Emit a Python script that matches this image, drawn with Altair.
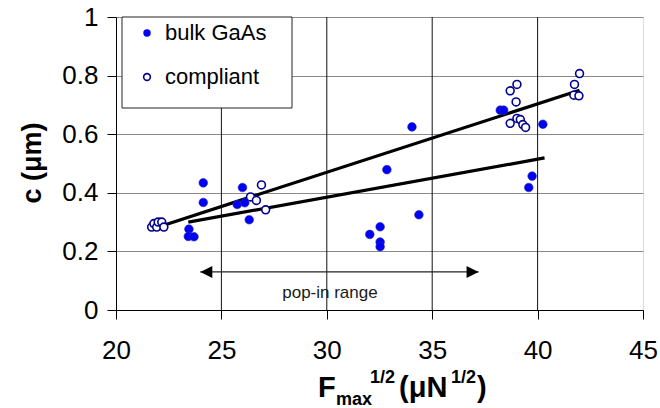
import altair as alt
import pandas as pd

# ---------------- data ----------------
series_names = ["bulk GaAs", "compliant"]

bulk_x = [23.46, 23.43, 23.70, 24.14, 24.14, 25.75, 26.00, 26.11, 26.32,
          32.04, 32.53, 32.53, 32.53, 32.85, 34.04, 34.37,
          38.23, 38.39, 39.58, 39.74, 40.25]
bulk_y = [0.276, 0.251, 0.250, 0.434, 0.367, 0.360, 0.418, 0.366, 0.308,
          0.258, 0.284, 0.232, 0.216, 0.479, 0.625, 0.325,
          0.682, 0.682, 0.418, 0.457, 0.634]

comp_x = [21.69, 21.80, 21.93, 22.00, 22.17, 22.27, 26.38, 26.66, 26.90, 27.10,
          38.70, 38.70, 38.98, 39.02, 39.02, 39.18, 39.30, 39.43,
          41.72, 41.75, 41.96, 41.99]
comp_y = [0.283, 0.295, 0.283, 0.300, 0.300, 0.283, 0.386, 0.374, 0.427, 0.342,
          0.748, 0.637, 0.710, 0.770, 0.654, 0.650, 0.633, 0.623,
          0.733, 0.770, 0.731, 0.807]

fit1_x = [21.61, 41.99]
fit1_y = [0.274, 0.750]
fit2_x = [23.43, 40.33]
fit2_y = [0.300, 0.519]

x_ticks = [20, 25, 30, 35, 40, 45]
y_ticks = [0, 0.2, 0.4, 0.6, 0.8, 1]
grid_x = [25, 30, 35, 40]

arrow_x = [24.0, 37.2]
arrow_y = [0.13, 0.13]
popin_label = ["pop-in range"]
popin_x = [30.15]
popin_y = [0.04]

# ---------------- chart ----------------
FONT = "Liberation Sans, Arial, Helvetica, sans-serif"
W, H = 527, 293

xs = alt.Scale(domain=[20, 45], nice=False, zero=False)
ys = alt.Scale(domain=[0, 1], nice=False, zero=False)

bulk_df = pd.DataFrame({"x": bulk_x, "y": bulk_y})
comp_df = pd.DataFrame({"x": comp_x, "y": comp_y})
fit_df = pd.DataFrame({
    "x": fit1_x + fit2_x,
    "y": fit1_y + fit2_y,
    "fit": ["a", "a", "b", "b"],
})
grid_df = pd.DataFrame({"x": grid_x})
arrow_df = pd.DataFrame({"x": arrow_x, "y": arrow_y, "side": ["l", "r"]})
popin_df = pd.DataFrame({"x": popin_x, "y": popin_y, "t": popin_label})

x_axis = alt.Axis(values=x_ticks, title=None, grid=False, tickSize=9,
                  labelFontSize=26, labelPadding=18, labelFont=FONT,
                  domainColor="black", tickColor="black", labelColor="black",
                  format="d", labelFlush=False)
y_axis = alt.Axis(values=y_ticks, title=None, grid=True, gridColor="#8a8a8a",
                  gridWidth=1, tickSize=9, labelFontSize=26, labelPadding=9,
                  labelFont=FONT, domainColor="black", tickColor="black",
                  labelColor="black", labelExpr="format(datum.value, '~g')",
                  labelFlush=False)

X = lambda: alt.X("x:Q", scale=xs, axis=x_axis)
Y = lambda: alt.Y("y:Q", scale=ys, axis=y_axis)

vgrid = alt.Chart(grid_df).mark_rule(color="#111111", strokeWidth=1).encode(
    x=X(), y=alt.value(0), y2=alt.value(H),
)

fits = alt.Chart(fit_df).mark_line(color="black", strokeWidth=3.2).encode(
    x=X(), y=Y(), detail="fit:N",
)

bulk_pts = alt.Chart(bulk_df).mark_point(
    shape="circle", filled=True, size=75, color="#0000f5", opacity=1,
    stroke="#2a2ab0", strokeWidth=0.6,
).encode(x=X(), y=Y())

comp_pts = alt.Chart(comp_df).mark_point(
    shape="circle", filled=False, size=62, color="#000090", strokeWidth=1.6,
    fill="white", fillOpacity=1, opacity=1,
).encode(x=X(), y=Y())

arrow_line = alt.Chart(arrow_df).mark_line(color="#222222", strokeWidth=1.2).encode(
    x=X(), y=Y(),
)
arrow_heads = alt.Chart(arrow_df).mark_point(
    filled=True, color="black", size=144, opacity=1,
).encode(
    x=X(), y=Y(),
    shape=alt.Shape("side:N", scale=alt.Scale(
        domain=["l", "r"], range=["M0,0L2,-1L2,1Z", "M0,0L-2,-1L-2,1Z"]),
        legend=None),
)

popin = alt.Chart(popin_df).mark_text(
    font=FONT, fontSize=17, color="#1a1a1a", align="center", baseline="alphabetic",
).encode(x=X(), y=Y(), text="t:N")

one = pd.DataFrame({"a": [0]})

legend_box = alt.Chart(one).mark_rect(
    fill="white", stroke="#222222", strokeWidth=1,
).encode(
    x=alt.value(6), x2=alt.value(176), y=alt.value(0), y2=alt.value(91),
)
leg_bulk = alt.Chart(one).mark_point(
    shape="circle", filled=True, size=55, color="#0000f5", opacity=1,
).encode(x=alt.value(31), y=alt.value(16))
leg_comp = alt.Chart(one).mark_point(
    shape="circle", filled=False, size=45, color="#000090", strokeWidth=1.6, opacity=1,
).encode(x=alt.value(31), y=alt.value(60))

def leg_label(txt, py):
    return alt.Chart(one).mark_text(
        text=txt, font=FONT, fontSize=22, color="black", align="left",
        baseline="middle",
    ).encode(x=alt.value(49), y=alt.value(py))

leg_text1 = leg_label(series_names[0], 16)
leg_text2 = leg_label(series_names[1], 60)

# axis titles
ytitle = alt.Chart(one).mark_text(
    text="c (\u03bcm)", font=FONT, fontSize=27, fontWeight="bold", angle=270,
    align="center", baseline="middle", color="black",
).encode(x=alt.value(-83), y=alt.value(146))

def tpart(txt, px, py, size):
    return alt.Chart(one).mark_text(
        text=txt, font=FONT, fontSize=size, fontWeight="bold",
        align="left", baseline="alphabetic", color="black",
    ).encode(x=alt.value(px), y=alt.value(py))

xt = [
    tpart("F", 202, 380, 29),
    tpart("max", 220, 388, 18),
    tpart("1/2", 254, 366, 18),
    tpart("(\u03bcN", 283, 380, 29),
    tpart("1/2", 335, 366, 18),
    tpart(")", 361, 380, 29),
]

chart = alt.layer(
    vgrid, fits, comp_pts, bulk_pts, arrow_line, arrow_heads, popin,
    legend_box, leg_bulk, leg_comp, leg_text1, leg_text2, ytitle, *xt,
).properties(
    width=W, height=H,
    autosize=alt.AutoSizeParams(type="none"),
    padding={"left": 116, "top": 17, "right": 17, "bottom": 98},
).configure_view(
    stroke="#8a8a8a", strokeWidth=1,
).configure(background="white")

chart.save("out.html", embed_options={"renderer": "svg", "actions": False})
